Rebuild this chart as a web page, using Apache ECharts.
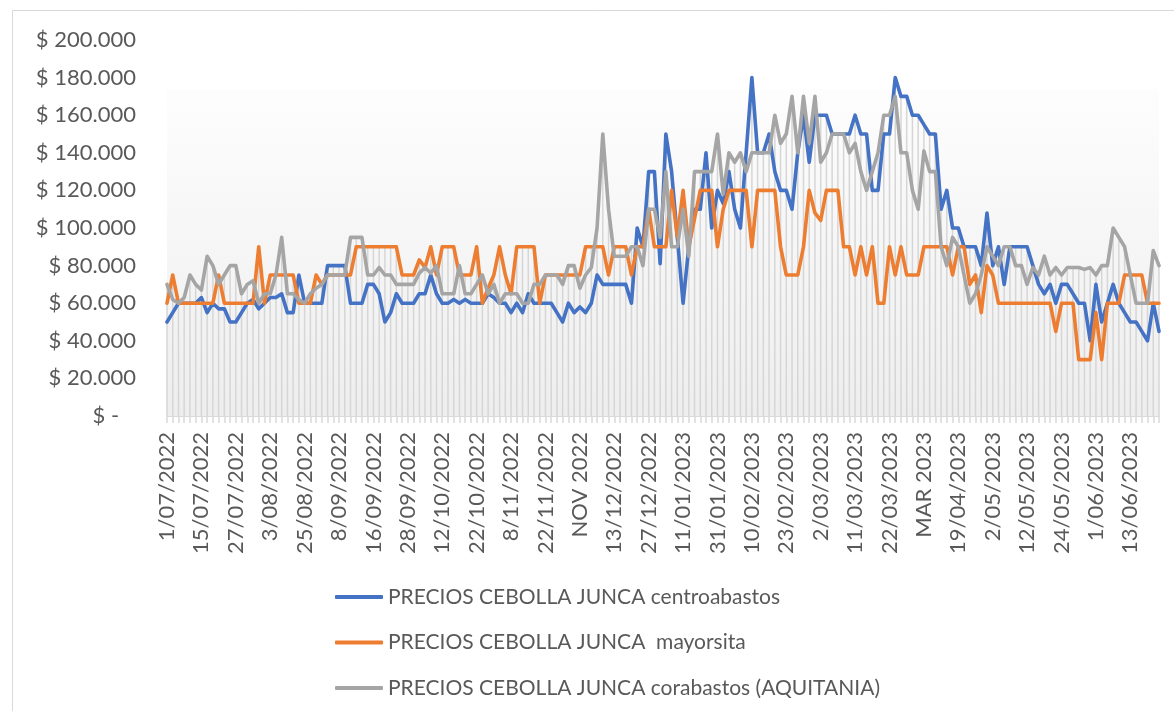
<!DOCTYPE html>
<html>
<head>
<meta charset="utf-8">
<script src="https://cdn.jsdelivr.net/npm/echarts@6/dist/echarts.min.js"></script>
<style>
  html, body { margin: 0; padding: 0; background: #fff; }
  #chart { width: 1174px; height: 711px; }
</style>
</head>
<body>
<div id="chart"></div>
<script>
// etiquetas del eje x (una cada 6 registros)
const tickLabels = [
  '1/07/2022', '15/07/2022', '27/07/2022', '3/08/2022', '25/08/2022', '8/09/2022',
  '16/09/2022', '28/09/2022', '12/10/2022', '22/10/2022', '8/11/2022', '22/11/2022',
  'NOV 2022', '13/12/2022', '27/12/2022', '11/01/2023', '31/01/2023', '10/02/2023',
  '23/02/2023', '2/03/2023', '11/03/2023', '22/03/2023', 'MAR 2023', '19/04/2023',
  '2/05/2023', '12/05/2023', '24/05/2023', '1/06/2023', '13/06/2023'
]

// precios en miles de pesos
const centroabastos = [
  50, 55, 60, 60, 60, 60, 63, 55, 60, 57,
  57, 50, 50, 55, 60, 62, 57, 60, 63, 63,
  65, 55, 55, 75, 60, 60, 60, 60, 80, 80,
  80, 80, 60, 60, 60, 70, 70, 65, 50, 55,
  65, 60, 60, 60, 65, 65, 75, 65, 60, 60,
  62, 60, 62, 60, 60, 60, 65, 63, 60, 60,
  55, 60, 55, 65, 60, 60, 60, 60, 55, 50,
  60, 55, 58, 55, 60, 75, 70, 70, 70, 70,
  70, 60, 100, 90, 130, 130, 81, 150, 130, 95,
  60, 90, 110, 110, 140, 100, 120, 113, 130, 110,
  100, 140, 180, 140, 140, 150, 130, 120, 120, 110,
  140, 160, 135, 160, 160, 160, 150, 150, 150, 150,
  160, 150, 150, 120, 120, 150, 150, 180, 170, 170,
  160, 160, 155, 150, 150, 110, 120, 100, 100, 90,
  90, 90, 80, 108, 80, 90, 70, 90, 90, 90,
  90, 80, 70, 65, 70, 60, 70, 70, 65, 60,
  60, 40, 70, 50, 60, 70, 60, 55, 50, 50,
  45, 40, 60, 45
]

const mayorista = [
  60, 75, 60, 60, 60, 60, 60, 60, 60, 75,
  60, 60, 60, 60, 60, 60, 90, 60, 75, 75,
  75, 75, 75, 60, 60, 60, 75, 70, 75, 75,
  75, 75, 75, 90, 90, 90, 90, 90, 90, 90,
  90, 75, 75, 75, 83, 79, 90, 75, 90, 90,
  90, 75, 75, 75, 90, 60, 68, 75, 90, 75,
  65, 90, 90, 90, 90, 60, 75, 75, 75, 75,
  75, 75, 75, 90, 90, 90, 90, 75, 90, 90,
  90, 75, 90, 90, 110, 90, 90, 90, 120, 95,
  120, 90, 105, 120, 120, 120, 90, 110, 120, 120,
  120, 120, 90, 120, 120, 120, 120, 90, 75, 75,
  75, 90, 120, 108, 104, 120, 120, 120, 90, 90,
  75, 90, 75, 90, 60, 60, 90, 75, 90, 75,
  75, 75, 90, 90, 90, 90, 90, 75, 90, 90,
  70, 75, 55, 80, 75, 60, 60, 60, 60, 60,
  60, 60, 60, 60, 60, 45, 60, 60, 60, 30,
  30, 30, 55, 30, 60, 60, 60, 75, 75, 75,
  75, 60, 60, 60
]

const corabastos = [
  70, 62, 60, 63, 75, 70, 67, 85, 80, 70,
  75, 80, 80, 65, 70, 72, 60, 65, 65, 75,
  95, 65, 65, 62, 60, 65, 68, 70, 75, 75,
  75, 75, 95, 95, 95, 75, 75, 79, 75, 75,
  70, 70, 70, 70, 76, 79, 76, 80, 65, 65,
  65, 80, 65, 65, 70, 75, 65, 70, 60, 65,
  65, 65, 60, 60, 70, 70, 75, 75, 75, 70,
  80, 80, 68, 75, 79, 100, 150, 110, 85, 85,
  85, 90, 90, 80, 110, 110, 95, 130, 90, 90,
  110, 85, 130, 130, 130, 130, 150, 118, 140, 135,
  140, 130, 140, 140, 140, 140, 160, 145, 150, 170,
  140, 170, 145, 170, 135, 140, 150, 150, 150, 140,
  145, 130, 120, 130, 140, 160, 160, 170, 140, 140,
  120, 110, 141, 130, 130, 90, 80, 95, 90, 75,
  60, 65, 75, 90, 85, 80, 90, 90, 80, 80,
  70, 79, 75, 85, 75, 79, 75, 79, 79, 79,
  78, 79, 75, 80, 80, 100, 95, 90, 75, 60,
  60, 60, 88, 80
]

const seriesNames = [
  'PRECIOS CEBOLLA JUNCA centroabastos',
  'PRECIOS CEBOLLA JUNCA  mayorsita',
  'PRECIOS CEBOLLA JUNCA corabastos (AQUITANIA)'
]
const seriesColors = ['#4472C4', '#ED7D31', '#A5A5A5']

const categories = centroabastos.map((v, i) => (i % 6 === 0 ? tickLabels[i / 6] : ''))
// lineas de caida: desde el punto mas alto de cada fecha hasta el eje
const dropLines = centroabastos.map((v, i) => Math.max(v, mayorista[i], corabastos[i]))

const font = 'Lato, "Open Sans", sans-serif'
const textColor = '#595959'

const chart = echarts.init(document.getElementById('chart'))

const lineSeries = [centroabastos, mayorista, corabastos].map((data, k) => ({
  name: seriesNames[k],
  type: 'line',
  data: data,
  symbol: 'none',
  z: 3,
  lineStyle: { width: 3.6, color: seriesColors[k], join: 'round', cap: 'round' },
  itemStyle: { color: seriesColors[k] }
}))

chart.setOption({
  animation: false,
  backgroundColor: '#ffffff',
  graphic: [{
    type: 'rect',
    shape: { x: 12.5, y: 10.5, width: 1300, height: 800 },
    style: { fill: 'none', stroke: '#d9d9d9', lineWidth: 1 },
    silent: true
  }],
  grid: {
    left: 167,
    right: 15,
    top: 40,
    bottom: 295,
    show: true,
    borderWidth: 0,
    backgroundColor: new echarts.graphic.LinearGradient(0, 0, 0, 1, [
      { offset: 0, color: '#ffffff' },
      { offset: 0.13, color: '#ffffff' },
      { offset: 0.131, color: '#fdfdfd' },
      { offset: 1, color: '#eeeeee' }
    ])
  },
  legend: {
    data: seriesNames,
    orient: 'vertical',
    left: 330,
    top: 580,
    icon: 'roundRect',
    itemWidth: 48,
    itemHeight: 4,
    itemGap: 21.5,
    textStyle: { fontSize: 21, color: textColor, fontFamily: font, lineHeight: 24 }
  },
  xAxis: {
    type: 'category',
    data: categories,
    boundaryGap: false,
    axisLine: { lineStyle: { color: '#d9d9d9', width: 1 } },
    axisTick: { interval: 0, length: 7, lineStyle: { color: '#d9d9d9', width: 1.5 } },
    axisLabel: {
      interval: 5,
      rotate: 90,
      margin: 16,
      fontSize: 22,
      color: textColor,
      fontFamily: font
    },
    splitLine: { show: false }
  },
  yAxis: {
    type: 'value',
    min: 0,
    max: 200,
    interval: 20,
    axisLine: { show: false },
    axisTick: { show: false },
    splitLine: { show: false },
    axisLabel: {
      margin: 31,
      fontSize: 22,
      color: textColor,
      fontFamily: font,
      formatter: (v) => (v === 0 ? '$ -   ' : '$ ' + v + '.000')
    }
  },
  series: [
    {
      name: 'drop',
      type: 'bar',
      data: dropLines,
      barWidth: 1.5,
      silent: true,
      z: 1,
      itemStyle: { color: '#d6d6d6' }
    }
  ].concat(lineSeries)
})
</script>
</body>
</html>
